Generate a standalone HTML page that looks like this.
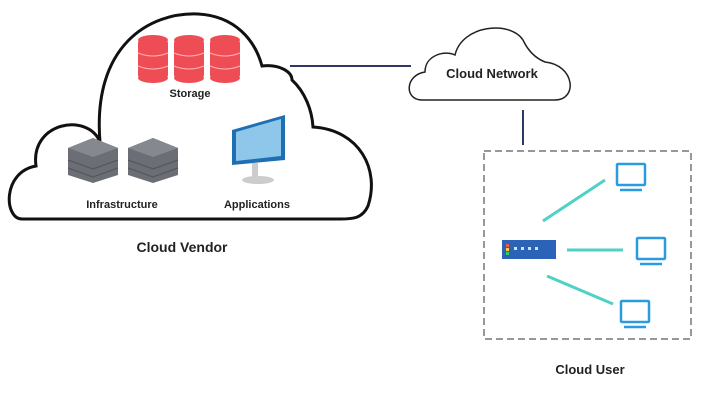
<!DOCTYPE html>
<html><head><meta charset="utf-8"><style>
html,body{margin:0;padding:0;background:#fff;width:720px;height:404px;overflow:hidden}
text{font-family:"Liberation Sans",sans-serif;font-weight:bold;fill:#222}
</style></head><body>
<svg width="720" height="404" viewBox="0 0 720 404" xmlns="http://www.w3.org/2000/svg">
<path d="M22,219 C4,219 2,172 36,166 C30,122 88,112 100,142 C92,45 150,12 198,14 C235,16 255,40 262,66 C280,64 292,72 292,80 C305,92 312,110 313,127 C360,130 380,170 368,206 C362,219 352,219 340,219 Z" fill="#fff" stroke="#111" stroke-width="3"/>
<g fill="#ee4d55">
<g id="cyl"><rect x="138" y="40" width="30" height="38" rx="3"/><ellipse cx="153" cy="40" rx="15" ry="5"/><ellipse cx="153" cy="78" rx="15" ry="5"/></g>
<use href="#cyl" x="36"/><use href="#cyl" x="72"/>
</g>
<g stroke="#ffb3b6" stroke-width="1" fill="none"><path d="M138,53 q15,6 30,0 M138,66 q15,6 30,0 M174,53 q15,6 30,0 M174,66 q15,6 30,0 M210,53 q15,6 30,0 M210,66 q15,6 30,0"/></g>
<text x="190" y="97" font-size="11" text-anchor="middle">Storage</text>
<g fill="#6b6e74">
<path d="M68,148 L93,138 L118,148 L118,175 L93,183 L68,175 Z"/>
<path d="M128,148 L153,138 L178,148 L178,175 L153,183 L128,175 Z"/>
</g>
<g fill="#85888e">
<path d="M68,148 L93,138 L118,148 L93,157 Z"/>
<path d="M128,148 L153,138 L178,148 L153,157 Z"/>
</g>
<g stroke="#55585d" stroke-width="1.2" fill="none"><path d="M68,160 L93,169 L118,160 M68,168 L93,177 L118,168 M128,160 L153,169 L178,160 M128,168 L153,177 L178,168"/></g>
<text x="122" y="208" font-size="11" text-anchor="middle">Infrastructure</text>
<path d="M232,130 L285,115 L285,160 L232,165 Z" fill="#1f6fb3"/>
<path d="M236,132 L281,119 L281,156 L236,161 Z" fill="#8fc7ea"/>
<rect x="252" y="163" width="6" height="14" fill="#ccc"/>
<ellipse cx="258" cy="180" rx="16" ry="4" fill="#ccc"/>
<text x="257" y="208" font-size="11" text-anchor="middle">Applications</text>
<text x="182" y="252" font-size="14" text-anchor="middle">Cloud Vendor</text>
<line x1="290" y1="66" x2="411" y2="66" stroke="#2c3a63" stroke-width="2"/>
<path d="M422,100 C404,100 405,75 425,72 C425,55 445,50 455,55 C462,25 510,20 523,40 C530,55 540,60 545,62 C575,65 578,100 555,100 Z" fill="#fff" stroke="#222" stroke-width="1.5"/>
<text x="492" y="78" font-size="13" text-anchor="middle">Cloud Network</text>
<line x1="523" y1="110" x2="523" y2="145" stroke="#2c3a63" stroke-width="2"/>
<rect x="484" y="151" width="207" height="188" fill="none" stroke="#777" stroke-width="1.5" stroke-dasharray="7,4"/>
<rect x="502" y="240" width="54" height="19" fill="#2b63b8"/>
<g fill="#cfe0ff"><rect x="514" y="247" width="3" height="3"/><rect x="521" y="247" width="3" height="3"/><rect x="528" y="247" width="3" height="3"/><rect x="535" y="247" width="3" height="3"/></g>
<rect x="506" y="244" width="3" height="3" fill="#e55"/><rect x="506" y="248" width="3" height="3" fill="#fc3"/><rect x="506" y="252" width="3" height="3" fill="#3c6"/>
<g stroke="#4fd1c5" stroke-width="3"><line x1="543" y1="221" x2="605" y2="180"/><line x1="567" y1="250" x2="623" y2="250"/><line x1="547" y1="276" x2="613" y2="304"/></g>
<g fill="none" stroke="#2b9be0" stroke-width="2.5">
<rect x="617" y="164" width="28" height="21" rx="1"/><line x1="620" y1="190" x2="642" y2="190"/>
<rect x="637" y="238" width="28" height="21" rx="1"/><line x1="640" y1="264" x2="662" y2="264"/>
<rect x="621" y="301" width="28" height="21" rx="1"/><line x1="624" y1="327" x2="646" y2="327"/>
</g>
<text x="590" y="374" font-size="13" text-anchor="middle">Cloud User</text>
</svg>
</body></html>
